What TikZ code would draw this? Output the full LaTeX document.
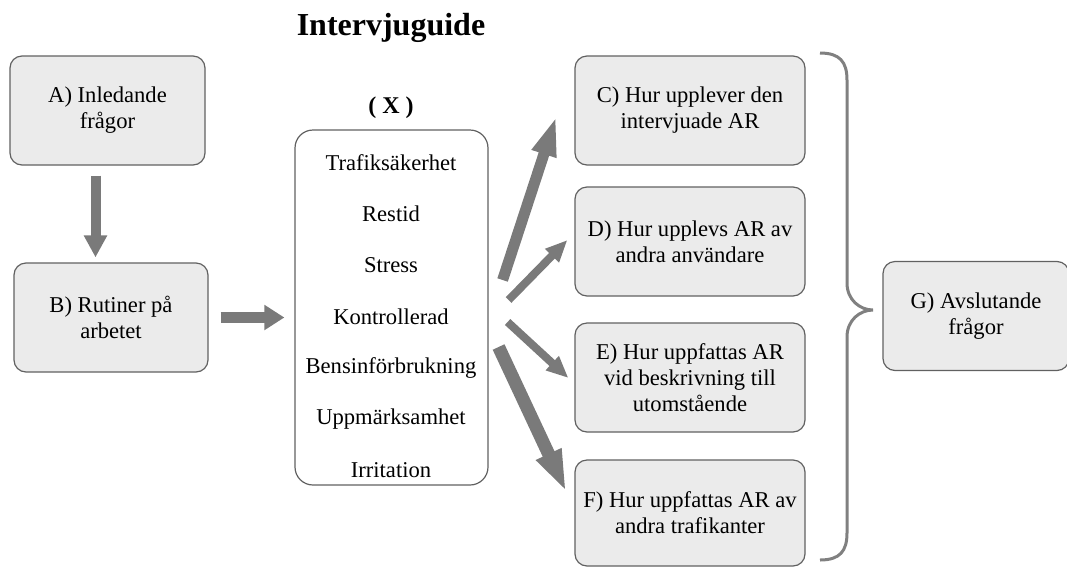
\documentclass[tikz,border=0pt]{standalone}
\usepackage{fontspec}
\setmainfont{Liberation Serif}
\newfontfamily\tnr{Liberation Serif}
\usetikzlibrary{arrows.meta}
\begin{document}
\begin{tikzpicture}[x=0.5pt,y=-0.5pt,font=\tnr\fontsize{11.3pt}{13pt}\selectfont,
  box/.style={draw=black!62,fill=black!8,line width=0.6pt,rounded corners=6pt,align=center,
    inner sep=0pt,minimum width=115pt,minimum height=54.5pt},
  blk/.style n args={3}{line width=#1,draw=black!52,-{Triangle[width=#2,length=#3]}}]
\useasboundingbox (0,0) rectangle (1067,569);
\node[font=\tnr\bfseries\fontsize{16pt}{19pt}\selectfont] (title) at (391,28) {Intervjuguide};
\node[font=\tnr\bfseries\fontsize{12pt}{14pt}\selectfont] (xlab) at (391,108) {( X )};
% left column
\node[box,minimum width=97.5pt] (A) at (107.5,110.5) {A) Inledande\\frågor};
\node[box,minimum width=97pt] (B) at (111,317.5) {B) Rutiner på\\arbetet};
% factors
\node[box,fill=white,rounded corners=9pt,minimum width=96.5pt,minimum height=177.5pt] (X) at (391.5,307.5) {};
\foreach \t [count=\i] in {Trafiksäkerhet,Restid,Stress,Kontrollerad,Bensinförbrukning,Uppmärksamhet,Irritation}
  \node (item\i) at (391,{111.8+51.2*\i}) {\t};
% right column
\node[box] (C) at (690,110.5) {C) Hur upplever den\\intervjuade AR};
\node[box] (D) at (690,241.5) {D) Hur upplevs AR av\\andra användare};
\node[box] (E) at (690,377.5) {E) Hur uppfattas AR\\vid beskrivning till\\utomstående};
\node[box,minimum height=53pt] (F) at (690,513) {F) Hur uppfattas AR av\\andra trafikanter};
\node[box,minimum width=93pt] (G) at (976,316) {G) Avslutande\\frågor};
% arrows
\draw[blk={5pt}{11pt}{11pt},shorten <=5pt,shorten >=2.5pt] ([xshift=-6]A.south) -- ([xshift=-6]A.south |- B.north);
\draw[blk={5.5pt}{12pt}{10pt},shorten <=6pt,shorten >=5pt] (B.east) -- (B.east -| X.west);
\draw[blk={5.5pt}{11.5pt}{20pt}] ([shift={(14,-27.5)}]X.east) -- ([shift={(-18,5.5)}]C.west);
\draw[blk={4pt}{9pt}{11pt}] ([shift={(20,-7.5)}]X.east) -- ([shift={(-7,-1.5)}]D.west);
\draw[blk={4pt}{9pt}{11pt}] ([shift={(19,14.5)}]X.east) -- ([shift={(-6,0.5)}]E.west);
\draw[blk={6.5pt}{12.5pt}{21pt}] ([shift={(10,39.5)}]X.east) -- ([shift={(-8,-21)}]F.west);
% brace
\draw[black!50,line width=1.5pt] (820,53) .. controls (840,53) and (847,62) .. (847,80) -- (847,283)
  .. controls (847,300) and (860,310) .. (873,310) .. controls (860,310) and (847,320) .. (847,337)
  -- (847,533) .. controls (847,551) and (840,560) .. (820,560);
\end{tikzpicture}
\end{document}
